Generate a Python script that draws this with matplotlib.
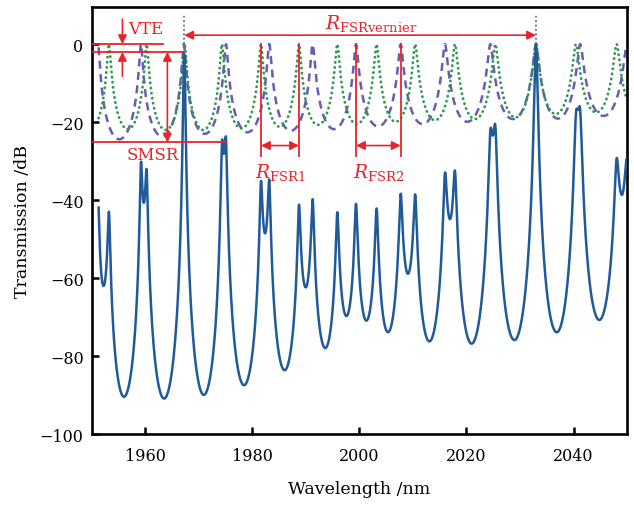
import numpy as np
import matplotlib
matplotlib.use("Agg")
import matplotlib.pyplot as plt

plt.rcParams['font.family'] = ['DejaVu Serif']
plt.rcParams['mathtext.fontset'] = 'dejavuserif'

# Resonance wavelengths (nm) of the two micro-rings
ring1_peaks = [1951.15, 1959.16, 1967.18, 1975.05, 1983.14, 1991.25, 1999.35,
               2007.70, 2015.98, 2024.45, 2032.99, 2041.25, 2050.00]
ring2_peaks = [1953.18, 1960.22, 1967.32, 1974.30, 1981.59, 1988.69, 1995.85,
               2003.20, 2010.41, 2017.85, 2025.40, 2032.99, 2040.45, 2048.05]
# Off-resonance floor (dB) between consecutive resonances
ring1_floor = [-24.4, -23.6, -23.0, -22.6, -22.2, -21.8, -21.1, -20.5,
               -19.9, -19.2, -19.1, -18.4]
ring2_floor = [-21.8, -22.0, -22.0, -21.6, -21.2, -20.7, -20.5, -19.9,
               -19.5, -19.2, -18.8, -17.9, -17.5]

wl_start, wl_stop = 1951.25, 2050.0
x_ticks = [1960, 1980, 2000, 2020, 2040]
y_ticks = [0, -20, -40, -60, -80, -100]


def ring_db(wl, peaks, floor, shape=1.0):
    """Airy-type drop-port response of a ring, in dB."""
    p = np.asarray(peaks, float)
    f = np.asarray(floor, float)
    pe = np.concatenate([[2 * p[0] - p[1]], p, [2 * p[-1] - p[-2]]])
    order = np.arange(-1, len(p) + 1, dtype=float)
    m = np.interp(wl, pe, order)
    depth = np.interp(m, np.arange(len(f)) + 0.5, f)
    F = 10 ** (-depth / (10 * shape)) - 1
    return -10 * shape * np.log10(1 + F * np.sin(np.pi * m) ** 2)


wl = np.linspace(wl_start, wl_stop, 20000)
t1 = ring_db(wl, ring1_peaks, ring1_floor, shape=1.2)
t2 = ring_db(wl, ring2_peaks, ring2_floor, shape=1.2)
# double pass through both rings
t_vernier = 2 * (ring_db(wl, ring1_peaks, ring1_floor) +
                 ring_db(wl, ring2_peaks, ring2_floor))

fig = plt.figure(figsize=(6.34, 5.06), dpi=100)
ax = fig.add_axes([0.145, 0.140, 0.844, 0.844])

blue = '#215a98'
purple = '#6a5cb4'
green = '#2c9a4e'
red = '#e8232b'

ax.plot(wl, t1, color=purple, lw=1.8, ls=(0, (3.2, 2.2)), zorder=2)
ax.plot(wl, t2, color=green, lw=2.0, ls=(0, (0.1, 1.75)),
        dash_capstyle='round', zorder=2)
ax.plot(wl, t_vernier, color=blue, lw=1.8, zorder=3)

ax.set_xlim(1950, 2050)
ax.set_ylim(-100, 9.5)
ax.set_xticks(x_ticks)
ax.set_yticks(y_ticks)
ax.tick_params(direction='in', length=5, width=1.8, labelsize=11.5,
               top=False, right=False)
ax.tick_params(axis='x', pad=9)
ax.tick_params(axis='y', pad=6)
for s in ax.spines.values():
    s.set_linewidth(1.9)
ax.set_xlabel('Wavelength /nm', fontsize=12.5, labelpad=12)
ax.set_ylabel('Transmission /dB', fontsize=12.5, labelpad=6)

# Vernier peak markers
v1, v2 = 1967.25, 2032.99
for v in (v1, v2):
    ax.plot([v, v], [0, 7.7], color='#555555', lw=1.2, ls=':', zorder=4)

arrow_kw = dict(color=red, lw=1.2, mutation_scale=13, shrinkA=0, shrinkB=0)

ax.annotate('', xy=(v1, 2.3), xytext=(v2, 2.3),
            arrowprops=dict(arrowstyle='<|-|>', **arrow_kw))
ax.text((v1 + v2) / 2 + 2, 5.6, r'$R_{\mathrm{FSRvernier}}$', color=red,
        fontsize=13.5, ha='center', va='center')

# VTE
ax.plot([1950, 1963.3], [0, 0], color=red, lw=1.3, zorder=5)
ax.plot([1950, 1967.2], [-2, -2], color=red, lw=1.3, zorder=5)
ax.annotate('', xy=(1955.7, 0), xytext=(1955.7, 6.4),
            arrowprops=dict(arrowstyle='-|>', **arrow_kw))
ax.annotate('', xy=(1955.7, -2), xytext=(1955.7, -8.2),
            arrowprops=dict(arrowstyle='-|>', **arrow_kw))
ax.text(1960.1, 3.9, 'VTE', color=red, fontsize=12, ha='center', va='center')

# SMSR
ax.plot([1950, 1975.0], [-25.2, -25.2], color=red, lw=1.3, zorder=5)
ax.annotate('', xy=(1964.1, -2), xytext=(1964.1, -25.2),
            arrowprops=dict(arrowstyle='<|-|>', **arrow_kw))
ax.text(1961.4, -28.4, 'SMSR', color=red, fontsize=12, ha='center',
        va='center')

# Individual ring FSRs
for (a, b), name in (((ring2_peaks[4], ring2_peaks[5]), 'FSR1'),
                     ((ring1_peaks[6], ring1_peaks[7]), 'FSR2')):
    for xv in (a, b):
        ax.plot([xv, xv], [0, -28.6], color=red, lw=1.3, zorder=5)
    ax.annotate('', xy=(a, -26), xytext=(b, -26),
                arrowprops=dict(arrowstyle='<|-|>', **arrow_kw))
    ax.text((a + b) / 2, -32.6, r'$R_{\mathrm{%s}}$' % name, color=red,
            fontsize=13.5, ha='center', va='center')

fig.savefig('out.png', dpi=100)
